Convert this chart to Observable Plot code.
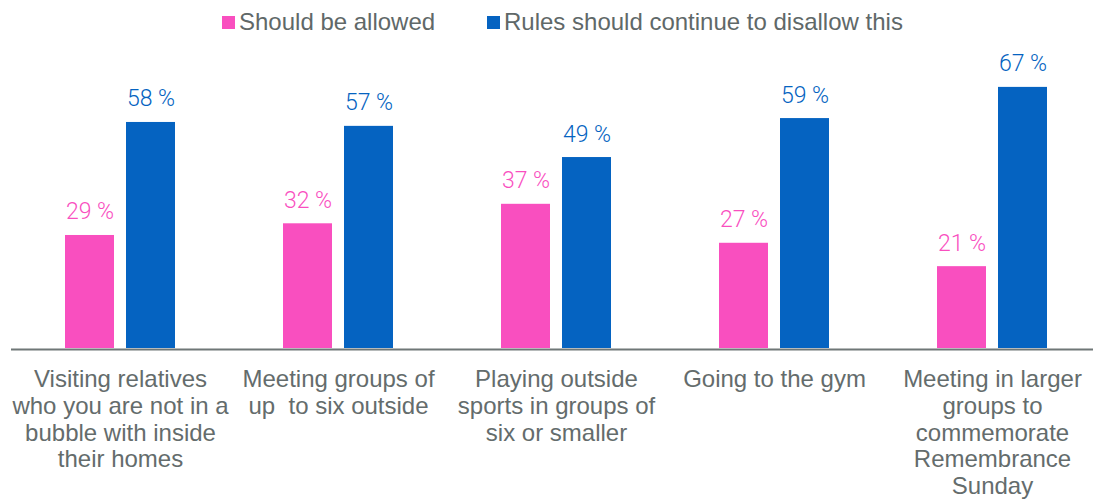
<!DOCTYPE html>
<html>
<head>
<meta charset="utf-8">
<script src="https://cdn.jsdelivr.net/npm/d3@7"></script>
<script src="https://cdn.jsdelivr.net/npm/@observablehq/plot@0.6"></script>
<style>
  html, body { margin: 0; padding: 0; background: #fff; }
  #legend { height: 40px; position: relative; font-family: "Liberation Sans", Arial, sans-serif; font-size: 24px; color: #606868; }
  .item { position: absolute; top: 8px; display: flex; align-items: center; white-space: nowrap; line-height: 28px; }
  .sw { width: 13px; height: 13px; margin-right: 4px; display: inline-block; }
</style>
</head>
<body>
<div id="legend"></div>
<div id="chart"></div>
<script>
const categories = [
  "Visiting relatives who you are not in a bubble with inside their homes",
  "Meeting groups of up  to six outside",
  "Playing outside sports in groups of six or smaller",
  "Going to the gym",
  "Meeting in larger groups to commemorate Remembrance Sunday"
];
const categoryLabels = [
  "Visiting relatives\nwho you are not in a\nbubble with inside\ntheir homes",
  "Meeting groups of\nup  to six outside",
  "Playing outside\nsports in groups of\nsix or smaller",
  "Going to the gym",
  "Meeting in larger\ngroups to\ncommemorate\nRemembrance\nSunday"
];
const seriesNames = ["Should be allowed", "Rules should continue to disallow this"];
const shouldBeAllowed = [29, 32, 37, 27, 21];
const rulesDisallow = [58, 57, 49, 59, 67];
const seriesColors = ["#F94FBF", "#0563C1"];

const data = [];
categories.forEach((c, i) => {
  data.push({category: c, series: seriesNames[0], value: shouldBeAllowed[i]});
  data.push({category: c, series: seriesNames[1], value: rulesDisallow[i]});
});

// legend
const legend = document.getElementById("legend");
const legendLeft = [222, 487];
seriesNames.forEach((s, i) => {
  const it = document.createElement("div");
  it.className = "item";
  it.style.left = legendLeft[i] + "px";
  const sw = document.createElement("span");
  sw.className = "sw";
  sw.style.background = seriesColors[i];
  it.appendChild(sw);
  it.appendChild(document.createTextNode(s));
  legend.appendChild(it);
});

const chart = Plot.plot({
  width: 1093,
  height: 460,
  marginLeft: 9,
  marginRight: -10.75,
  marginTop: 35.2,
  marginBottom: 152,
  style: {background: "#fff", overflow: "visible"},
  fx: {domain: categories, padding: 0, axis: null},
  x: {domain: seriesNames, paddingInner: 0.2, paddingOuter: 0.86, axis: null},
  y: {domain: [0, 70], axis: null},
  color: {domain: seriesNames, range: seriesColors},
  marks: [
    Plot.barY(data, {fx: "category", x: "series", y: "value", fill: "series"}),
    Plot.text(data, {
      fx: "category", x: "series", y: "value",
      text: d => d.value + " %",
      fill: "series",
      lineAnchor: "bottom",
      dy: -16,
      fontSize: 23,
      fontWeight: 300,
      fontFamily: "Roboto, Lato, 'Open Sans', sans-serif"
    }),
    Plot.ruleY([0], {stroke: "#6f7777", strokeWidth: 2, dy: 1}),
    Plot.text(categories, {
      fx: d => d,
      text: (d, i) => categoryLabels[i],
      frameAnchor: "bottom",
      lineAnchor: "top",
      dy: 20,
      lineHeight: 1.11,
      fontSize: 24,
      fill: "#646c6c",
      fontFamily: "'Liberation Sans', Arial, sans-serif"
    })
  ]
});
document.getElementById("chart").appendChild(chart);
</script>
</body>
</html>
